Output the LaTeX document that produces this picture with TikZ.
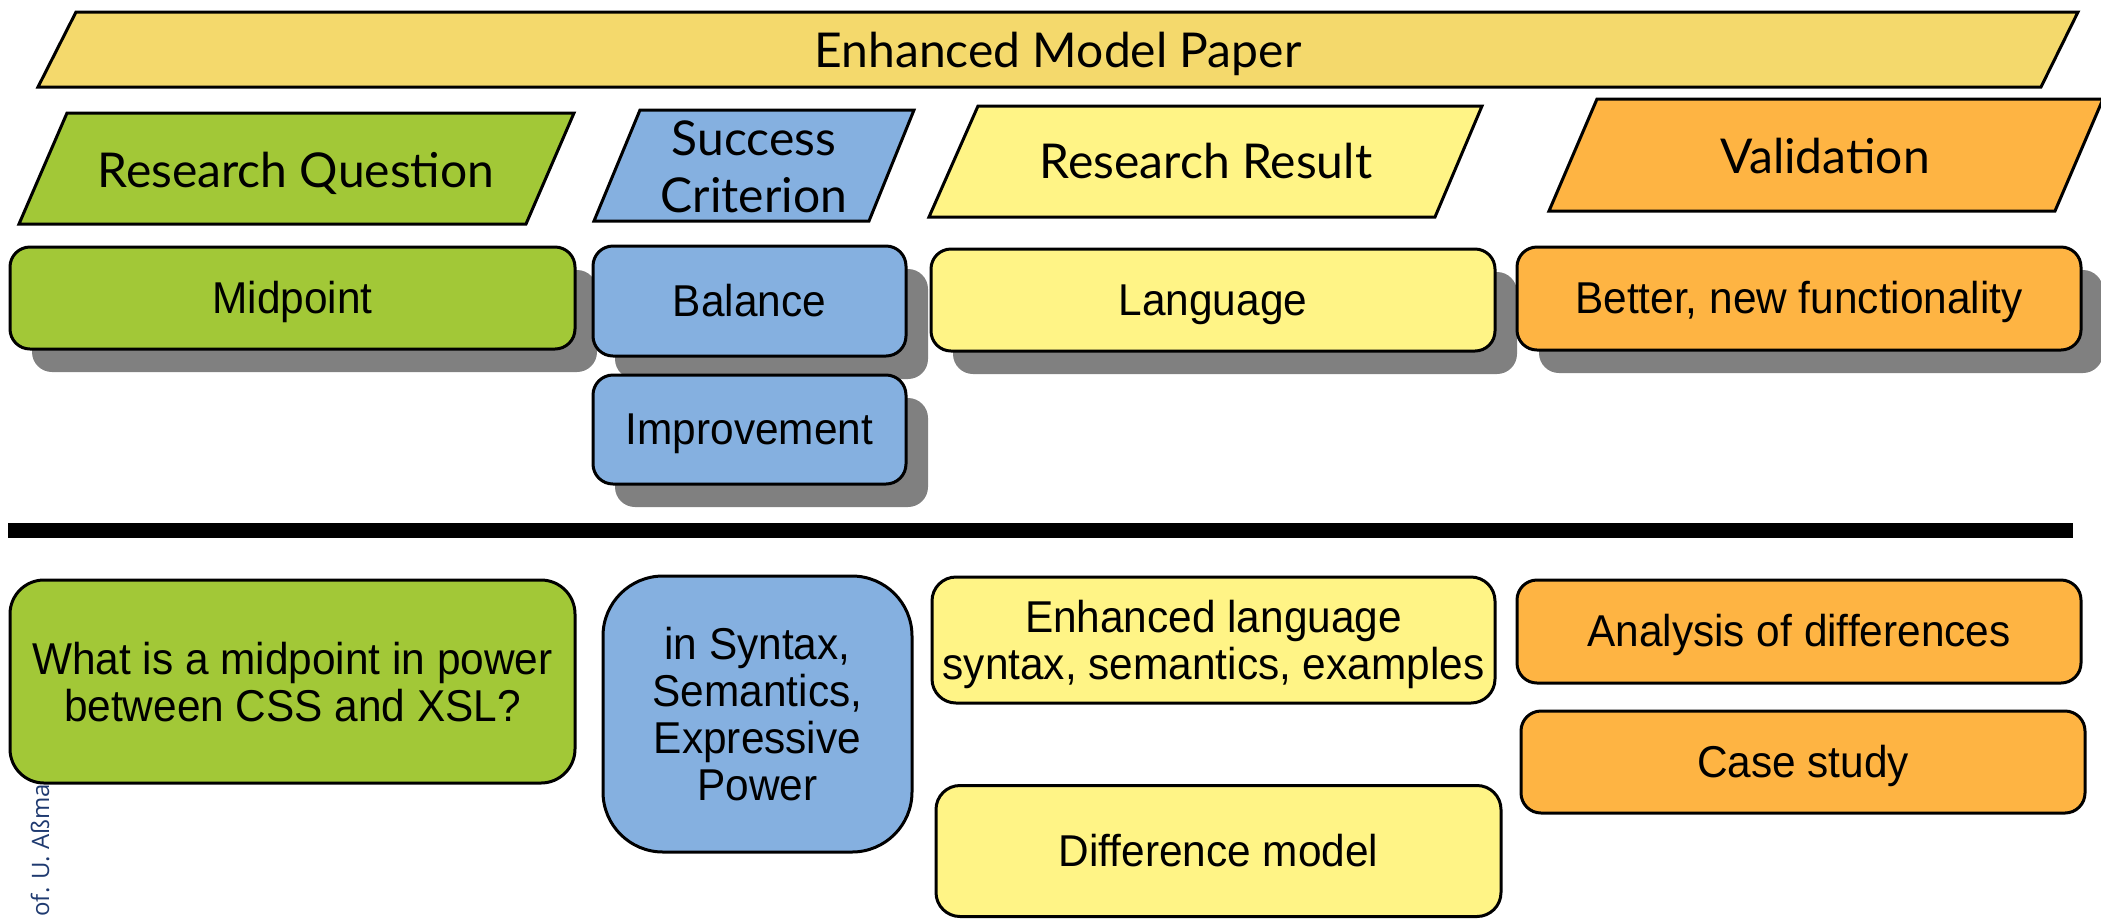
\documentclass[tikz,border=0pt]{standalone}
\usepackage{fontspec}
\usetikzlibrary{shadows}
\newfontfamily\latofont{Lato}
\newfontfamily\boxfont{Liberation Sans}[FakeStretch=0.95]
\newfontfamily\sidefont{Open Sans}
\definecolor{paperfill}{HTML}{F4D96C}
\definecolor{qgreen}{HTML}{A2C837}
\definecolor{cblue}{HTML}{85B0E0}
\definecolor{ryellow}{HTML}{FFF486}
\definecolor{vorange}{HTML}{FEB443}
\definecolor{shadowgray}{HTML}{808080}
\definecolor{sideblue}{HTML}{1F3A70}
\tikzset{
  para/.style={draw, line width=1.5pt},
  paratext/.style={font=\latofont\fontsize{24}{28.5}\selectfont, align=center, inner sep=0pt},
  oneline/.style={text height=17pt, text depth=0pt},
  box/.style={draw, line width=1.5pt, rounded corners=10pt, inner sep=0pt, align=center,
    text depth=0pt, font=\boxfont\fontsize{22.3}{23.5}\selectfont},
  single/.style={text height=15pt},
  shadowed/.style={drop shadow={shadow xshift=11pt, shadow yshift=-11.5pt, fill=shadowgray, opacity=1}},
}
\begin{document}
\begin{tikzpicture}[x=0.5pt, y=-0.5pt]
\useasboundingbox (0,0) rectangle (2101,918);

% column headers
\draw[para, fill=paperfill] (76,12) -- (2078,12) -- (2041,87) -- (38,87) -- cycle;
\node[paratext, oneline] (paper) at (1058,50) {Enhanced Model Paper};
\draw[para, fill=qgreen] (67,113) -- (574,113) -- (526,224) -- (19,224) -- cycle;
\node[paratext, oneline] (rq) at (296,170) {Research Question};
\draw[para, fill=cblue] (640,110) -- (914,110) -- (869,221) -- (594,221) -- cycle;
\node[paratext] (sc) at (754,167) {Success\\Criterion};
\draw[para, fill=ryellow] (978,106) -- (1482,106) -- (1435,217) -- (929,217) -- cycle;
\node[paratext, oneline] (rr) at (1206,161) {Research Result};
\draw[para, fill=vorange] (1597,99) -- (2103,99) -- (2055,211) -- (1549,211) -- cycle;
\node[paratext, oneline] (val) at (1825,156) {Validation};

% generic pattern
\node[box, single, shadowed, fill=qgreen, minimum width=282.5pt, minimum height=51pt] (mid) at (292.5,298) {Midpoint};
\node[box, single, shadowed, fill=cblue, minimum width=156.5pt, minimum height=55pt] (bal) at (749.5,301) {Balance};
\node[box, single, shadowed, fill=cblue, minimum width=156.5pt, minimum height=54.5pt] (imp) at (749.5,429.5) {Improvement};
\node[box, single, shadowed, fill=ryellow, minimum width=282pt, minimum height=51pt] (lang) at (1213,300) {Language};
\node[box, single, shadowed, fill=vorange, minimum width=282pt, minimum height=51.5pt] (better) at (1799,298.5) {Better, new functionality};

% separator
\fill (8,523) rectangle (2073,538);

% footer, partly covered by the box above it
\node[font=\sidefont\fontsize{12}{14}\selectfont, text=sideblue, rotate=90, anchor=base west, inner sep=0pt] (author) at (49,917) {of. U. Aßma};

% concrete instance
\node[box, fill=qgreen, rounded corners=17pt, minimum width=282.5pt, minimum height=101.5pt] (q) at (292.5,681.5) {What is a midpoint in power\\between CSS and XSL?};
\node[box, fill=cblue, rounded corners=30pt, minimum width=154.5pt, minimum height=138pt] (syn) at (757.5,714) {in Syntax,\\Semantics,\\Expressive\\Power};
\node[box, fill=ryellow, rounded corners=12pt, minimum width=281.5pt, minimum height=63pt] (enh) at (1213.5,640) {Enhanced language\\syntax, semantics, examples};
\node[box, single, fill=ryellow, rounded corners=12pt, minimum width=282.5pt, minimum height=65.5pt] (diff) at (1218.5,851) {Difference model};
\node[box, single, fill=vorange, minimum width=282pt, minimum height=51.5pt] (ana) at (1799,631.5) {Analysis of differences};
\node[box, single, fill=vorange, minimum width=282pt, minimum height=51pt] (case) at (1803,762) {Case study};
\end{tikzpicture}
\end{document}
